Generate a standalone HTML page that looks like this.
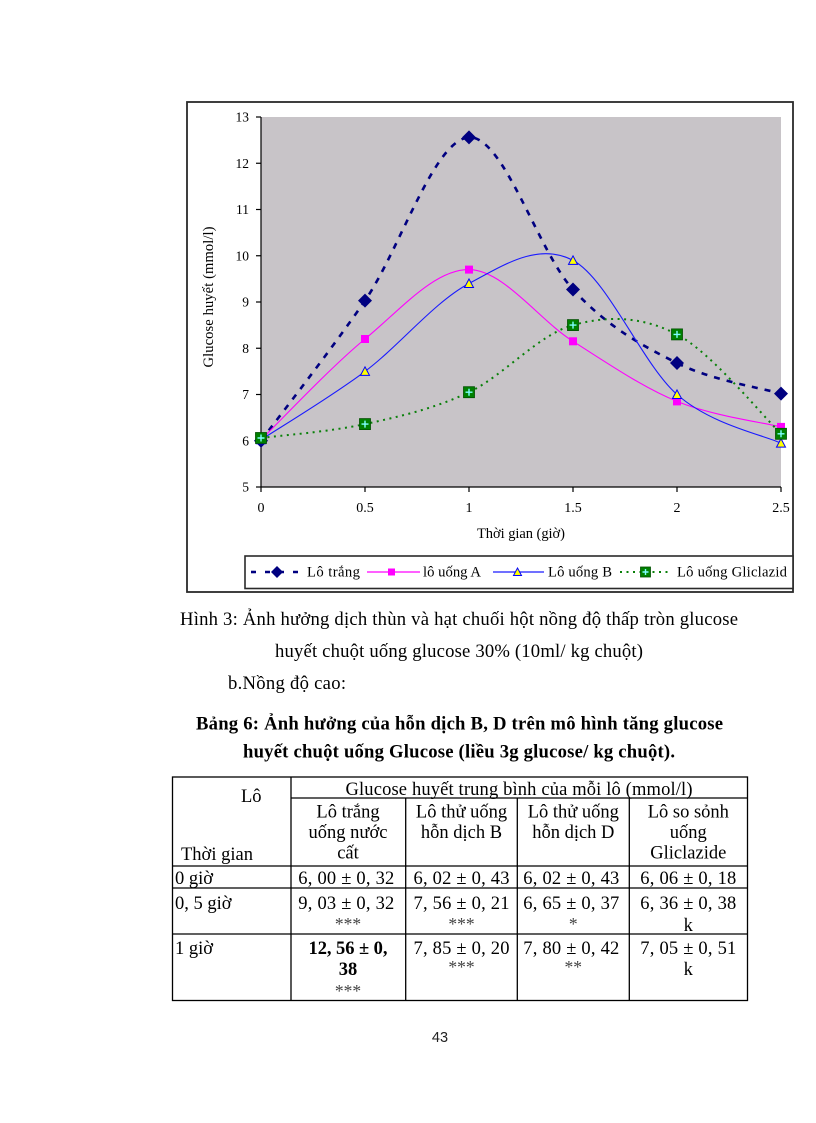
<!DOCTYPE html>
<html>
<head>
<meta charset="utf-8">
<style>
  html, body { margin: 0; padding: 0; background: #ffffff; }
  svg { display: block; }
  .serif { font-family: "Liberation Serif", "DejaVu Serif", serif; }
  .sans { font-family: "Liberation Sans", "DejaVu Sans", sans-serif; }
</style>
</head>
<body>
<svg width="816" height="1123" viewBox="0 0 816 1123" xmlns="http://www.w3.org/2000/svg">
  <rect x="0" y="0" width="816" height="1123" fill="#ffffff"/>

  <!-- Chart frame -->
  <rect x="187" y="102" width="606" height="490" fill="#ffffff" stroke="#2a2a2a" stroke-width="1.8"/>

  <!-- Plot area -->
  <rect x="261" y="117" width="520" height="370" fill="#c8c4c8"/>

  <!-- Axes -->
  <g stroke="#000" stroke-width="1.2" fill="none">
    <line x1="261" y1="117" x2="261" y2="487"/>
    <line x1="261" y1="487" x2="781" y2="487"/>
    <line x1="256" y1="117" x2="261" y2="117"/>
    <line x1="256" y1="163.25" x2="261" y2="163.25"/>
    <line x1="256" y1="209.5" x2="261" y2="209.5"/>
    <line x1="256" y1="255.75" x2="261" y2="255.75"/>
    <line x1="256" y1="302" x2="261" y2="302"/>
    <line x1="256" y1="348.25" x2="261" y2="348.25"/>
    <line x1="256" y1="394.5" x2="261" y2="394.5"/>
    <line x1="256" y1="440.75" x2="261" y2="440.75"/>
    <line x1="256" y1="487" x2="261" y2="487"/>
    <line x1="261" y1="487" x2="261" y2="492"/>
    <line x1="365" y1="487" x2="365" y2="492"/>
    <line x1="469" y1="487" x2="469" y2="492"/>
    <line x1="573" y1="487" x2="573" y2="492"/>
    <line x1="677" y1="487" x2="677" y2="492"/>
    <line x1="781" y1="487" x2="781" y2="492"/>
  </g>

  <!-- Y tick labels -->
  <g class="serif" font-size="13.5" fill="#000" text-anchor="end">
    <text x="249" y="121.5">13</text>
    <text x="249" y="167.75">12</text>
    <text x="249" y="214">11</text>
    <text x="249" y="260.25">10</text>
    <text x="249" y="306.5">9</text>
    <text x="249" y="352.75">8</text>
    <text x="249" y="399">7</text>
    <text x="249" y="445.25">6</text>
    <text x="249" y="491.5">5</text>
  </g>
  <!-- X tick labels -->
  <g class="serif" font-size="14" fill="#000" text-anchor="middle">
    <text x="261" y="512">0</text>
    <text x="365" y="512">0.5</text>
    <text x="469" y="512">1</text>
    <text x="573" y="512">1.5</text>
    <text x="677" y="512">2</text>
    <text x="781" y="512">2.5</text>
  </g>

  <!-- Axis titles -->
  <text class="serif" x="521" y="538" font-size="14.5" text-anchor="middle" textLength="88" lengthAdjust="spacing">Thời gian (giờ)</text>
  <text class="serif" transform="translate(213,297) rotate(-90)" x="0" y="0" font-size="14.5" text-anchor="middle" textLength="141" lengthAdjust="spacing">Glucose huyết (mmol/l)</text>

  <!-- Series: Lô trắng -->
  <path d="M261,440.75 C278.33,417.39 330.33,351.17 365,300.6 C399.67,250.03 434.33,139.2 469,137.35 C503.67,135.5 538.33,251.88 573,289.5 C607.67,327.12 642.33,345.7 677,363.05 C711.67,380.4 763.67,388.51 781,393.6"
        fill="none" stroke="#000080" stroke-width="2.6" stroke-dasharray="6 7"/>
  <!-- Series: lô uống A -->
  <path d="M261,439.8 C278.33,423.0 330.33,367.37 365,339.0 C399.67,310.63 434.33,269.22 469,269.6 C503.67,269.98 538.33,319.33 573,341.3 C607.67,363.27 642.33,387.13 677,401.4 C711.67,415.67 763.67,422.65 781,426.9"
        fill="none" stroke="#ff00ff" stroke-width="1.1"/>
  <!-- Series: Lô uống B -->
  <path d="M261,439.8 C278.33,428.4 330.33,397.45 365,371.4 C399.67,345.35 434.33,302.0 469,283.5 C503.67,265.0 538.33,241.9 573,260.4 C607.67,278.9 642.33,364.05 677,394.5 C711.67,424.95 763.67,435.0 781,443.1"
        fill="none" stroke="#1a1aff" stroke-width="1.1"/>
  <!-- Series: Gliclazid -->
  <path d="M261,438.0 C278.33,435.68 330.33,431.73 365,424.1 C399.67,416.47 434.33,408.7 469,392.2 C503.67,375.7 538.33,334.73 573,325.1 C607.67,315.47 642.33,316.28 677,334.4 C711.67,352.52 763.67,417.23 781,433.8"
        fill="none" stroke="#0a800a" stroke-width="2" stroke-dasharray="2 4.5"/>

  <!-- Markers: Lô trắng diamonds -->
  <g fill="#000080">
    <polygon points="261,433.75 268,440.75 261,447.75 254,440.75"/>
    <polygon points="365,293.6 372,300.6 365,307.6 358,300.6"/>
    <polygon points="469,130.35 476,137.35 469,144.35 462,137.35"/>
    <polygon points="573,282.5 580,289.5 573,296.5 566,289.5"/>
    <polygon points="677,356.05 684,363.05 677,370.05 670,363.05"/>
    <polygon points="781,386.6 788,393.6 781,400.6 774,393.6"/>
  </g>
  <!-- Markers: A squares -->
  <g fill="#ff00ff">
    <rect x="257" y="435.8" width="8" height="8"/>
    <rect x="361" y="335" width="8" height="8"/>
    <rect x="465" y="265.6" width="8" height="8"/>
    <rect x="569" y="337.3" width="8" height="8"/>
    <rect x="673" y="397.4" width="8" height="8"/>
    <rect x="777" y="422.9" width="8" height="8"/>
  </g>
  <!-- Markers: B triangles -->
  <g fill="#ffff00" stroke="#0000ff" stroke-width="1">
    <polygon points="261,435.3 265.5,443.8 256.5,443.8"/>
    <polygon points="365,366.9 369.5,375.4 360.5,375.4"/>
    <polygon points="469,279 473.5,287.5 464.5,287.5"/>
    <polygon points="573,255.9 577.5,264.4 568.5,264.4"/>
    <polygon points="677,390 681.5,398.5 672.5,398.5"/>
    <polygon points="781,438.6 785.5,447.1 776.5,447.1"/>
  </g>
  <!-- Markers: Gliclazid squares with plus -->
  <g>
    <g transform="translate(261,438)"><rect x="-5.5" y="-5.5" width="11" height="11" fill="#008000" stroke="#005000" stroke-width="0.8"/><path d="M-3.5,0 H3.5 M0,-3.5 V3.5" stroke="#7fffff" stroke-width="1.4"/></g>
    <g transform="translate(365,424.1)"><rect x="-5.5" y="-5.5" width="11" height="11" fill="#008000" stroke="#005000" stroke-width="0.8"/><path d="M-3.5,0 H3.5 M0,-3.5 V3.5" stroke="#7fffff" stroke-width="1.4"/></g>
    <g transform="translate(469,392.2)"><rect x="-5.5" y="-5.5" width="11" height="11" fill="#008000" stroke="#005000" stroke-width="0.8"/><path d="M-3.5,0 H3.5 M0,-3.5 V3.5" stroke="#7fffff" stroke-width="1.4"/></g>
    <g transform="translate(573,325.1)"><rect x="-5.5" y="-5.5" width="11" height="11" fill="#008000" stroke="#005000" stroke-width="0.8"/><path d="M-3.5,0 H3.5 M0,-3.5 V3.5" stroke="#7fffff" stroke-width="1.4"/></g>
    <g transform="translate(677,334.4)"><rect x="-5.5" y="-5.5" width="11" height="11" fill="#008000" stroke="#005000" stroke-width="0.8"/><path d="M-3.5,0 H3.5 M0,-3.5 V3.5" stroke="#7fffff" stroke-width="1.4"/></g>
    <g transform="translate(781,433.8)"><rect x="-5.5" y="-5.5" width="11" height="11" fill="#008000" stroke="#005000" stroke-width="0.8"/><path d="M-3.5,0 H3.5 M0,-3.5 V3.5" stroke="#7fffff" stroke-width="1.4"/></g>
  </g>

  <!-- Legend -->
  <rect x="245" y="556" width="548" height="32.5" fill="#ffffff" stroke="#2a2a2a" stroke-width="1.6"/>
  <line x1="251" y1="572" x2="303" y2="572" stroke="#000080" stroke-width="2.6" stroke-dasharray="5 9"/>
  <polygon points="277,566 283,572 277,578 271,572" fill="#000080"/>
  <text class="serif" x="307" y="576.5" font-size="14.67" textLength="53" lengthAdjust="spacing">Lô trắng</text>

  <line x1="367" y1="572" x2="420" y2="572" stroke="#ff00ff" stroke-width="1.2"/>
  <rect x="388" y="568.5" width="7" height="7" fill="#ff00ff"/>
  <text class="serif" x="423" y="576.5" font-size="14.67" textLength="58" lengthAdjust="spacing">lô uống A</text>

  <line x1="493" y1="572" x2="544" y2="572" stroke="#1a1aff" stroke-width="1.2"/>
  <polygon points="517.5,568 521.5,575.5 513.5,575.5" fill="#ffff00" stroke="#0000ff" stroke-width="1"/>
  <text class="serif" x="548" y="576.5" font-size="14.67" textLength="64" lengthAdjust="spacing">Lô uống B</text>

  <line x1="620" y1="572" x2="671" y2="572" stroke="#0a800a" stroke-width="2" stroke-dasharray="2 4.5"/>
  <g transform="translate(645.5,572)"><rect x="-5" y="-5" width="10" height="10" fill="#008000" stroke="#005000" stroke-width="0.8"/><path d="M-3,0 H3 M0,-3 V3" stroke="#7fffff" stroke-width="1.4"/></g>
  <text class="serif" x="677" y="576.5" font-size="14.67" textLength="110" lengthAdjust="spacing">Lô uống Gliclazid</text>

  <!-- Caption -->
  <g class="serif" fill="#000" font-size="18.67">
    <text x="180" y="625" textLength="558" lengthAdjust="spacing">Hình 3:  Ảnh hưởng dịch thùn và hạt chuối hột nồng độ thấp tròn glucose</text>
    <text x="275" y="657" textLength="368" lengthAdjust="spacing">huyết  chuột uống glucose 30% (10ml/  kg chuột)</text>
    <text x="228" y="689" textLength="118" lengthAdjust="spacing">b.Nồng độ cao:</text>
    <text x="196" y="729.5" font-weight="bold" textLength="527" lengthAdjust="spacing">Bảng 6: Ảnh hưởng của hỗn dịch B, D trên mô hình tăng glucose</text>
    <text x="243" y="757.5" font-weight="bold" textLength="432" lengthAdjust="spacing">huyết chuột uống Glucose (liều 3g glucose/ kg chuột).</text>
  </g>

  <!-- Table lines -->
  <g stroke="#000" stroke-width="1.3" fill="none">
    <rect x="172.5" y="777" width="575" height="223.5"/>
    <line x1="291" y1="777" x2="291" y2="1000.5"/>
    <line x1="405.7" y1="798" x2="405.7" y2="1000.5"/>
    <line x1="517.3" y1="798" x2="517.3" y2="1000.5"/>
    <line x1="629.3" y1="798" x2="629.3" y2="1000.5"/>
    <line x1="291" y1="798" x2="747.5" y2="798"/>
    <line x1="172.5" y1="866" x2="747.5" y2="866"/>
    <line x1="172.5" y1="888" x2="747.5" y2="888"/>
    <line x1="172.5" y1="934" x2="747.5" y2="934"/>
  </g>

  <!-- Table text -->
  <g class="serif" fill="#000" font-size="18.5">
    <text x="241" y="802">Lô</text>
    <text x="519" y="795" text-anchor="middle" textLength="347" lengthAdjust="spacing">Glucose huyết trung bình của mỗi lô (mmol/l)</text>

    <g text-anchor="middle">
      <text x="348" y="817.5">Lô trắng</text>
      <text x="348" y="838">uống nước</text>
      <text x="348" y="858.5">cất</text>

      <text x="461.5" y="817.5">Lô thử uống</text>
      <text x="461.5" y="838">hỗn dịch B</text>

      <text x="573.3" y="817.5">Lô thử uống</text>
      <text x="573.3" y="838">hỗn dịch D</text>

      <text x="688.3" y="817.5">Lô so sỏnh</text>
      <text x="688.3" y="838">uống</text>
      <text x="688.3" y="858.5">Gliclazide</text>
    </g>
    <text x="181" y="860">Thời gian</text>

    <text x="175" y="884">0 giờ</text>
    <text x="175" y="909">0, 5 giờ</text>
    <text x="175" y="954">1 giờ</text>

    <g text-anchor="middle">
      <text x="346.3" y="884" textLength="96" lengthAdjust="spacing">6, 00 ± 0, 32</text>
      <text x="461.5" y="884" textLength="96" lengthAdjust="spacing">6, 02 ± 0, 43</text>
      <text x="571.3" y="884" textLength="96" lengthAdjust="spacing">6, 02 ± 0, 43</text>
      <text x="688.3" y="884" textLength="96" lengthAdjust="spacing">6, 06 ± 0, 18</text>

      <text x="346.3" y="909" textLength="96" lengthAdjust="spacing">9, 03 ± 0, 32</text>
      <text x="461.5" y="909" textLength="96" lengthAdjust="spacing">7, 56 ± 0, 21</text>
      <text x="571.3" y="909" textLength="96" lengthAdjust="spacing">6, 65 ± 0, 37</text>
      <text x="688.3" y="909" textLength="96" lengthAdjust="spacing">6, 36 ± 0, 38</text>
      <text x="688.3" y="931">k</text>

      <text x="348" y="954" font-weight="bold" textLength="79" lengthAdjust="spacing">12, 56 ± 0,</text>
      <text x="348" y="975" font-weight="bold">38</text>
      <text x="461.5" y="954" textLength="96" lengthAdjust="spacing">7, 85 ± 0, 20</text>
      <text x="571.3" y="954" textLength="96" lengthAdjust="spacing">7, 80 ± 0, 42</text>
      <text x="688.3" y="954" textLength="96" lengthAdjust="spacing">7, 05 ± 0, 51</text>
      <text x="688.3" y="975">k</text>
    </g>
  </g>
  <!-- asterisks -->
  <g class="serif" fill="#444" font-size="17.5" text-anchor="middle">
    <text x="348" y="930">***</text>
    <text x="461.5" y="930">***</text>
    <text x="573.3" y="930">*</text>
    <text x="461.5" y="973">***</text>
    <text x="573.3" y="973">**</text>
    <text x="348" y="997">***</text>
  </g>

  <!-- Page number -->
  <text class="sans" x="440" y="1042" font-size="14.5" text-anchor="middle" fill="#222">43</text>
</svg>
</body>
</html>
